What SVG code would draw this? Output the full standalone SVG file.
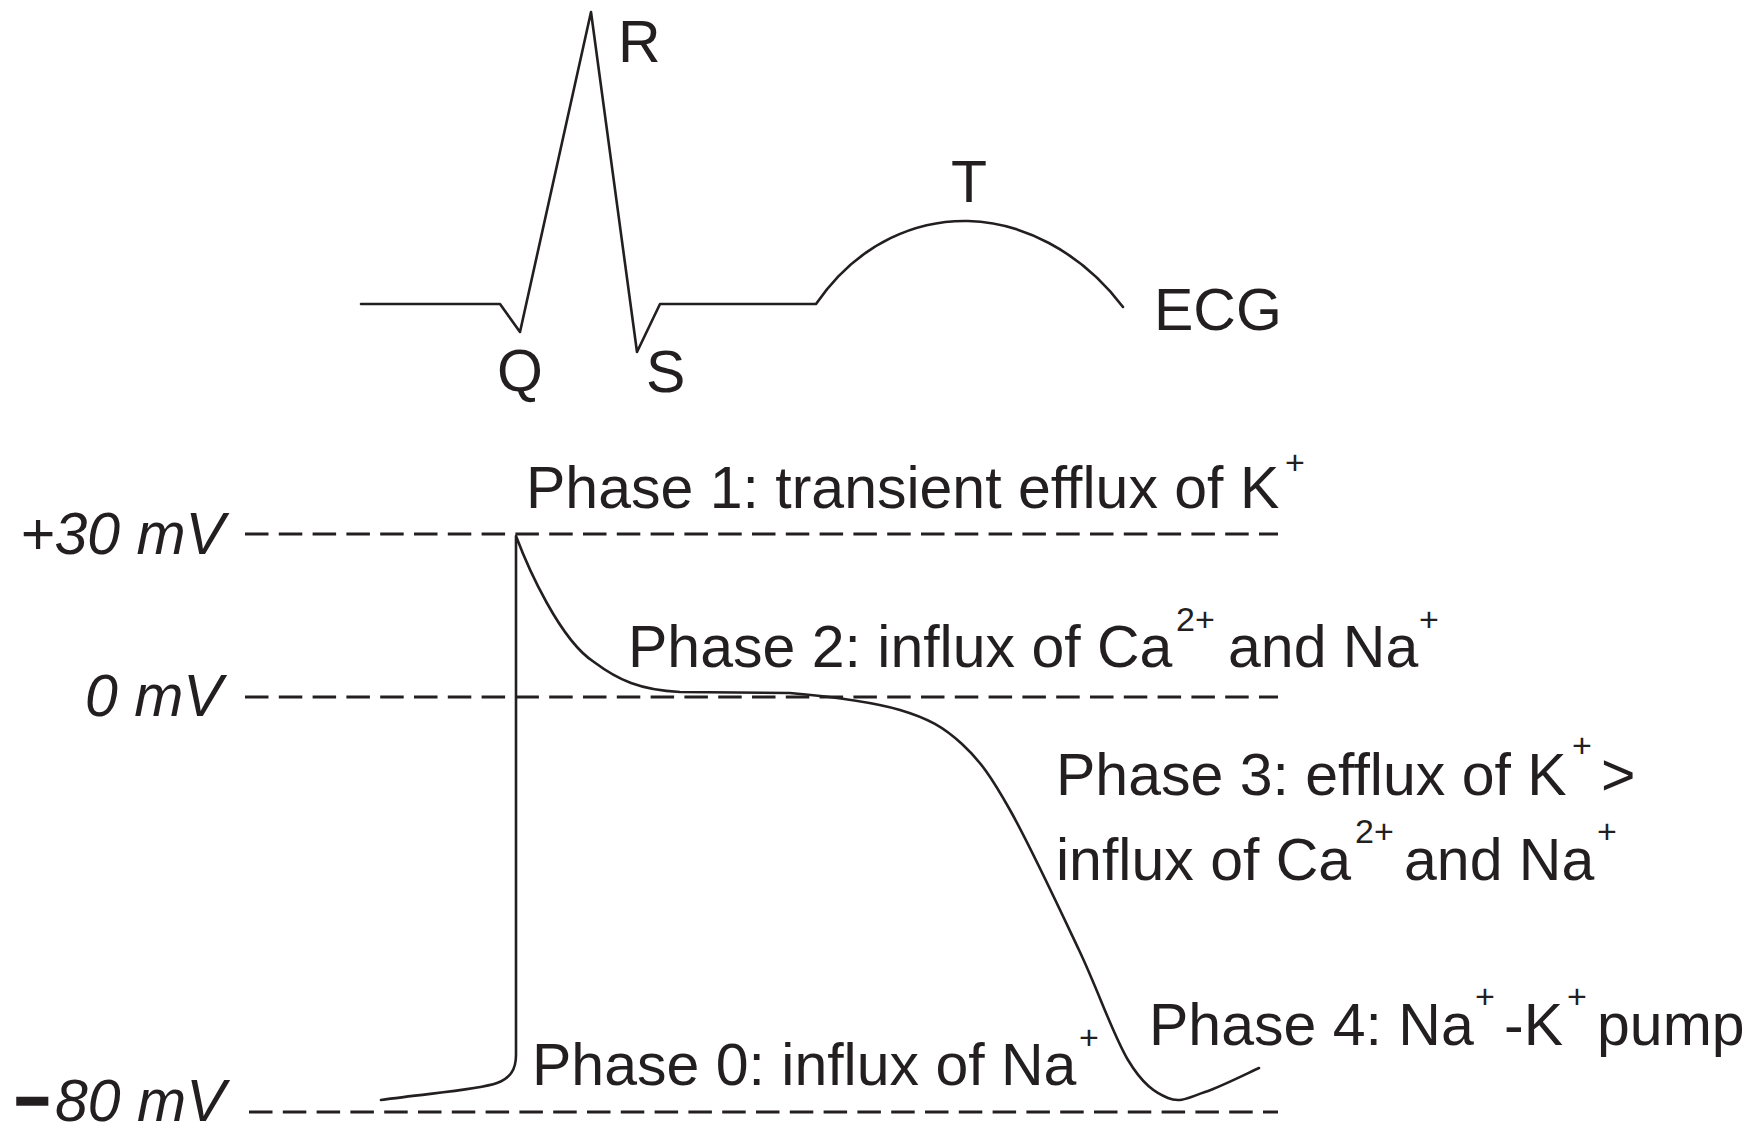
<svg xmlns="http://www.w3.org/2000/svg" width="1752" height="1134" viewBox="0 0 1752 1134">
<style>
  .t { font-family: "Liberation Sans", Arial, sans-serif; font-size: 59px; fill: #231f20; }
  .it { font-style: italic; }
  .sup { font-size: 34px; }
  .trace { fill: none; stroke: #231f20; stroke-width: 2.6; stroke-linejoin: round; stroke-linecap: round; }
  .dash { fill: none; stroke: #231f20; stroke-width: 3; stroke-dasharray: 23.5 10.3; }
</style>
<rect width="1752" height="1134" fill="#ffffff"/>

<!-- Reference levels -->
<g id="levels">
  <line class="dash" x1="245" y1="534" x2="1278" y2="534"/>
  <line class="dash" x1="245" y1="697" x2="1278" y2="697"/>
  <line class="dash" x1="249" y1="1112" x2="1278" y2="1112"/>
</g>

<!-- ECG trace -->
<g id="ecg">
  <path class="trace" d="M361,304 L500,304 L520,332 L591,12 L637,352 L660,304 L816,304 C860,240 920,220 968,221 C1020,222 1080,250 1123,307"/>
</g>

<!-- Action potential trace -->
<g id="action-potential">
  <path class="trace" d="M381,1100 C430,1093 478,1090 497,1083 C510,1078 516,1070 516,1055 L516,536 C528,568 560,640 594,662 C618,680 640,690 680,692 L790,693 C823.3,696 871.3,701.5 900,710 C928.7,718.5 943.7,727.3 962,744 C980.3,760.7 992,778 1010,810 C1029.5,844.3 1059.3,908.3 1079,950 C1098.7,991.7 1113.2,1035.3 1128,1060 C1142.8,1084.7 1155.2,1092.7 1168,1098 C1180.8,1103.3 1189.8,1097 1205,1092 C1220.2,1087 1250,1072 1259,1068"/>
</g>

<!-- ECG labels -->
<g id="ecg-labels">
  <text class="t" x="618" y="62">R</text>
  <text class="t" x="497" y="391">Q</text>
  <text class="t" x="646" y="392">S</text>
  <text class="t" x="951" y="202">T</text>
  <text class="t" x="1154" y="330">ECG</text>
</g>

<!-- Voltage labels -->
<g id="voltage-labels">
  <text class="t it" x="20" y="554">+30 mV</text>
  <text class="t it" x="85" y="716">0 mV</text>
  <text class="t it" y="1121"><tspan x="14" font-weight="bold" stroke="#231f20" stroke-width="2.5">−</tspan><tspan x="55">80 mV</tspan></text>
</g>

<!-- Phase labels -->
<g id="phase1">
  <text class="t" x="526" y="508">Phase 1: transient efflux of K<tspan class="sup" x="1285" y="474">+</tspan></text>
</g>
<g id="phase2">
  <text class="t" x="628" y="667">Phase 2: influx of Ca<tspan class="sup" x="1176" y="631">2+</tspan><tspan x="1228" y="667">and Na</tspan><tspan class="sup" x="1419" y="631">+</tspan></text>
</g>
<g id="phase3">
  <text class="t" x="1056" y="795">Phase 3: efflux of K<tspan class="sup" x="1572" y="757">+</tspan><tspan x="1601" y="795">&gt;</tspan></text>
  <text class="t" x="1056" y="880">influx of Ca<tspan class="sup" x="1355" y="843">2+</tspan><tspan x="1404" y="880">and Na</tspan><tspan class="sup" x="1597" y="843">+</tspan></text>
</g>
<g id="phase4">
  <text class="t" x="1149" y="1045">Phase 4: Na<tspan class="sup" x="1475" y="1008">+</tspan><tspan x="1504" y="1045">-K</tspan><tspan class="sup" x="1567" y="1008">+</tspan><tspan x="1597" y="1045">pump</tspan></text>
</g>
<g id="phase0">
  <text class="t" x="532" y="1085">Phase 0: influx of Na<tspan class="sup" x="1079" y="1049">+</tspan></text>
</g>
</svg>
